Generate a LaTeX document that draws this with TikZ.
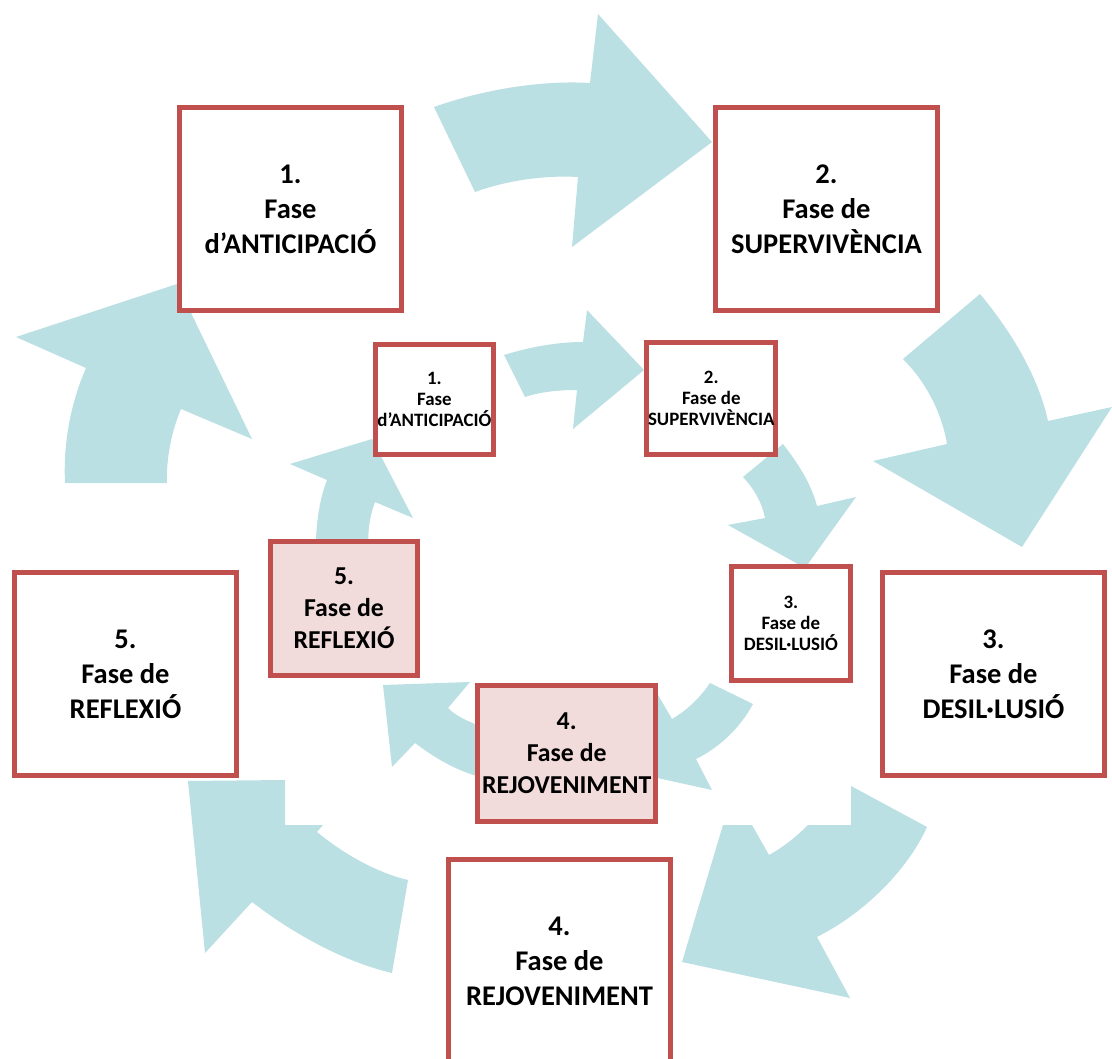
\documentclass[tikz,border=0pt]{standalone}
\usepackage{fontspec}
\setmainfont{Carlito}
\definecolor{boxred}{HTML}{C0504D}
\definecolor{boxpink}{HTML}{F2DCDB}
\definecolor{cyclefill}{HTML}{BBE0E3}
\begin{document}
\begin{tikzpicture}[x=1pt,y=-1pt,
  cyc/.style={fill=cyclefill},
  phase/.style={draw=boxred, line width=5pt, fill=white, inner sep=0pt, align=center},
  bigphase/.style={phase, minimum width=222pt, minimum height=203pt,
    font=\fontsize{28.5}{35}\selectfont\bfseries},
  smallphase/.style={phase, font=\fontsize{18.9}{21}\selectfont\bfseries},
  pinkphase/.style={phase, fill=boxpink, font=\fontsize{25.8}{32}\selectfont\bfseries}
]
\useasboundingbox (0,0) rectangle (1112,1059);
\fill[white] (0,0) rectangle (1112,1059);

% outer cycle arrows
\fill[cyc] (434,107) .. controls (482,90) and (540,80) .. (590,83) -- (598,14) -- (712,142)
  -- (572,247) -- (578,177) .. controls (543,175) and (505,181) .. (475,192) -- cycle;
\fill[cyc] (903,359) -- (980,294) .. controls (1010,330) and (1038,375) .. (1048,421)
  -- (1112,407) -- (1022,547) -- (873,461) -- (947,444)
  .. controls (942,414) and (927,383) .. (903,359) -- cycle;
\fill[cyc] (851,786) -- (927,827) .. controls (910,865) and (870,910) .. (817,937)
  -- (850,998) -- (682,962) -- (723,825) -- (752,825) -- (769,855)
  .. controls (785,846) and (797,836) .. (808,825) -- (851,825) -- cycle;
\fill[cyc] (408,880) -- (392,973) .. controls (345,962) and (295,935) .. (252,902)
  -- (205,953) -- (188,781) -- (285,780) -- (285,825) -- (323,825) -- (317,832)
  .. controls (345,855) and (378,873) .. (408,880) -- cycle;
\fill[cyc] (65,483) .. controls (63,440) and (72,400) .. (86,368) -- (16,337) -- (177,284)
  -- (252,439) -- (181,409) .. controls (172,430) and (166,458) .. (167,483) -- cycle;

% inner cycle arrows
\fill[cyc] (504,355) .. controls (530,347) and (557,342) .. (583,342) -- (587,310) -- (644,370)
  -- (573,429) -- (577,390) .. controls (558,390) and (540,392) .. (525,397) -- cycle;
\fill[cyc] (743,477) -- (783,444) .. controls (797,462) and (811,483) .. (817,506)
  -- (856,497) -- (805,568) -- (728,525) -- (765,518)
  .. controls (762,503) and (755,490) .. (743,477) -- cycle;
\fill[cyc] (710,683) -- (753,704) .. controls (740,728) and (720,747) .. (696,759)
  -- (712,790) -- (630,772) -- (658,695) -- (672,719)
  .. controls (686,711) and (700,698) .. (710,683) -- cycle;
\fill[cyc] (470,682) -- (383,685) -- (392,767) -- (415,743)
  .. controls (435,758) and (455,770) .. (480,777) -- (480,726)
  .. controls (467,721) and (456,716) .. (448,708) -- cycle;
\fill[cyc] (316,555) .. controls (315,530) and (319,500) .. (327,480) -- (290,464) -- (372,439)
  -- (413,518) -- (375,502) .. controls (369,518) and (367,535) .. (369,555) -- cycle;

% outer phases
\node[bigphase] (b1) at (290.5,209) {1.\\Fase\\d’ANTICIPACIÓ};
\node[bigphase] (b2) at (826.5,209) {2.\\Fase de\\SUPERVIVÈNCIA};
\node[bigphase] (b3) at (993.5,674) {3.\\Fase de\\DESIL·LUSIÓ};
\node[bigphase] (b4) at (559.5,961) {4.\\Fase de\\REJOVENIMENT};
\node[bigphase] (b5) at (125.5,674) {5.\\Fase de\\REFLEXIÓ};

% inner phases
\node[smallphase, minimum width=118pt, minimum height=110pt] (s1) at (434.4,399.7) {1.\\Fase\\d’ANTICIPACIÓ};
\node[smallphase, minimum width=129pt, minimum height=112pt] (s2) at (711.3,398.4) {2.\\Fase de\\SUPERVIVÈNCIA};
\node[smallphase, minimum width=119pt, minimum height=114pt] (s3) at (790.9,623.8) {3.\\Fase de\\DESIL·LUSIÓ};
\node[pinkphase, minimum width=178pt, minimum height=136pt] (s4) at (566.7,753.7) {4.\\Fase de\\REJOVENIMENT};
\node[pinkphase, minimum width=147pt, minimum height=134pt] (s5) at (344,608.5) {5.\\Fase de\\REFLEXIÓ};
\end{tikzpicture}
\end{document}
